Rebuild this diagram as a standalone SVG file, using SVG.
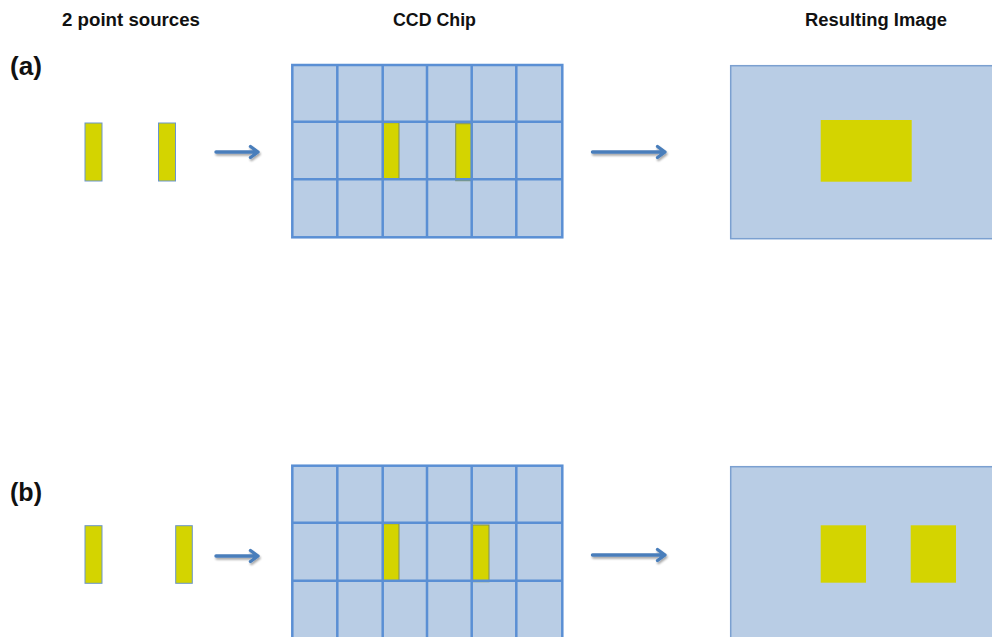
<svg xmlns="http://www.w3.org/2000/svg" width="992" height="637" viewBox="0 0 992 637">
  <defs>
    <filter id="arrowShadow" x="-20%" y="-100%" width="140%" height="300%">
      <feGaussianBlur in="SourceAlpha" stdDeviation="1.2"/>
      <feOffset dx="1" dy="2" result="b"/>
      <feComponentTransfer><feFuncA type="linear" slope="0.35"/></feComponentTransfer>
      <feMerge><feMergeNode/><feMergeNode in="SourceGraphic"/></feMerge>
    </filter>
  </defs>
  <style>
    .hdr { font-family: "Liberation Sans", Arial, sans-serif; font-weight: bold; font-size: 18px; fill: #111; }
    .tag { font-family: "Liberation Sans", Arial, sans-serif; font-weight: bold; font-size: 25px; fill: #111; }
    .cell { fill: #B9CDE5; }
    .gridline { stroke: #5A8FD4; stroke-width: 2.5; fill: none; }
    .src { fill: #D4D400; stroke: #6A95CC; stroke-width: 1; }
    .hit { fill: #D4D400; stroke: #7E8F5A; stroke-width: 1; }
    .img { fill: #B9CDE5; stroke: #7BA0D0; stroke-width: 1.5; }
    .spot { fill: #D4D400; }
    .arrow { stroke: #4A7EBB; stroke-width: 3.4; fill: none; stroke-linecap: round; stroke-linejoin: round; }
  </style>

  <!-- column headers -->
  <g id="headers">
    <text class="hdr" x="62" y="26" textLength="138" lengthAdjust="spacingAndGlyphs">2 point sources</text>
    <text class="hdr" x="393" y="26" textLength="83" lengthAdjust="spacingAndGlyphs">CCD Chip</text>
    <text class="hdr" x="805" y="26" textLength="142" lengthAdjust="spacingAndGlyphs">Resulting Image</text>
  </g>

  <!-- row (a) -->
  <g id="label-a"><text class="tag" x="10" y="75" textLength="32" lengthAdjust="spacingAndGlyphs">(a)</text></g>
  <g id="sources-a">
    <rect class="src" x="85" y="123" width="17" height="58"/>
    <rect class="src" x="158.5" y="123" width="17" height="58"/>
  </g>
  <g id="ccd-a">
    <rect class="cell" x="292.3" y="65" width="270" height="172.3"/>
    <rect class="hit" x="383.3" y="122.7" width="15.7" height="56.6"/>
    <rect class="hit" x="455.7" y="123.7" width="16.3" height="57"/>
    <rect class="gridline" x="292.3" y="65" width="270" height="172.3"/>
    <path class="gridline" d="M337.3 65V237.3M382.7 65V237.3M427 65V237.3M471.7 65V237.3M516.3 65V237.3M292.3 121.7H562.3M292.3 179.3H562.3"/>
  </g>
  <g id="image-a">
    <rect class="img" x="730.7" y="65.7" width="270" height="173"/>
    <rect class="spot" x="820.7" y="120" width="91" height="61.7"/>
  </g>

  <!-- row (b) -->
  <g id="label-b"><text class="tag" x="10" y="501" textLength="32" lengthAdjust="spacingAndGlyphs">(b)</text></g>
  <g id="sources-b">
    <rect class="src" x="85" y="525.7" width="17" height="57.6"/>
    <rect class="src" x="175.7" y="525.7" width="16.6" height="57.6"/>
  </g>
  <g id="ccd-b">
    <rect class="cell" x="292.3" y="465.7" width="270" height="180"/>
    <rect class="hit" x="383.3" y="523.7" width="15.7" height="57"/>
    <rect class="hit" x="472.7" y="525" width="16.3" height="56.7"/>
    <rect class="gridline" x="292.3" y="465.7" width="270" height="180"/>
    <path class="gridline" d="M337.3 465.7V645M382.7 465.7V645M427 465.7V645M471.7 465.7V645M516.3 465.7V645M292.3 522.7H562.3M292.3 580.7H562.3"/>
  </g>
  <g id="image-b">
    <rect class="img" x="730.7" y="466.7" width="270" height="180"/>
    <rect class="spot" x="820.7" y="525.3" width="45.3" height="57.4"/>
    <rect class="spot" x="910.7" y="525.3" width="45.3" height="57.4"/>
  </g>

  <!-- connectors -->
  <g id="connectors" filter="url(#arrowShadow)">
    <path class="arrow" d="M216 152H258M250.5 146.5L258 152L250.5 157.5"/>
    <path class="arrow" d="M592.5 152H665M657.5 146.5L665 152L657.5 157.5"/>
    <path class="arrow" d="M216 556H258M250.5 550.5L258 556L250.5 561.5"/>
    <path class="arrow" d="M592.5 555H665M657.5 549.5L665 555L657.5 560.5"/>
  </g>
</svg>
